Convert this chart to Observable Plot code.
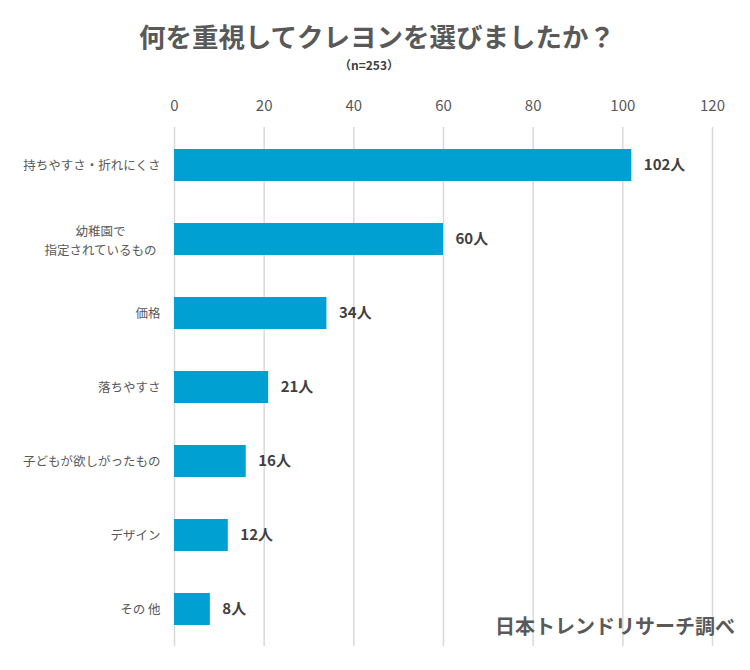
<!DOCTYPE html>
<html><head><meta charset="utf-8">
<script src="https://cdn.jsdelivr.net/npm/d3@7"></script>
<script src="https://cdn.jsdelivr.net/npm/@observablehq/plot@0.6"></script>
<style>
body{margin:0;background:#fff;font-family:"Noto Sans CJK JP","Noto Sans",sans-serif;}
#wrap{position:relative;width:750px;height:670px;}
#title{position:absolute;left:0;top:18px;width:754px;text-align:center;font-size:26.5px;font-weight:bold;color:#595959;line-height:36px;}
#sub{position:absolute;left:0;top:56px;width:738px;text-align:center;font-size:12px;font-weight:bold;color:#404040;line-height:18px;}
#cap{position:absolute;right:15px;top:613px;font-size:20px;font-weight:bold;color:#595959;line-height:26px;}
#chart{position:absolute;left:0;top:0;}
</style></head>
<body><div id="wrap"><div id="chart"></div><div id="title"></div><div id="sub"></div><div id="cap"></div></div>
<script>
const titleText = "何を重視してクレヨンを選びましたか？";
const subtitleText = "（n=253）";
const captionText = "日本トレンドリサーチ調べ";
const categories = ["持ちやすさ・折れにくさ", "幼稚園で\n指定されているもの", "価格", "落ちやすさ", "子どもが欲しがったもの", "デザイン", "その 他"];
const values = [102, 60, 34, 21, 16, 12, 8];
const unit = "人";
const xTicks = [0, 20, 40, 60, 80, 100, 120];

document.getElementById("title").textContent = titleText;
document.getElementById("sub").textContent = subtitleText;
document.getElementById("cap").textContent = captionText;

const data = categories.map((c, i) => ({cat: c, v: values[i]}));
const single = data.filter(d => !d.cat.includes("\n"));
const multi = data.filter(d => d.cat.includes("\n"));

const chart = Plot.plot({
  width: 750, height: 670,
  marginLeft: 174, marginRight: 38, marginTop: 127, marginBottom: 24,
  style: {fontFamily: '"Noto Sans CJK JP","Noto Sans",sans-serif', background: "transparent"},
  x: {domain: [0, 120], ticks: xTicks, axis: null},
  y: {domain: categories, paddingInner: 0.57, paddingOuter: 0.285, axis: null},
  marks: [
    Plot.ruleX(xTicks, {stroke: "#d9d9d9", strokeWidth: 1.5}),
    Plot.axisX({anchor: "top", ticks: xTicks, tickSize: 0, tickPadding: 17, fontSize: 15, fill: "#595959", label: null}),
    Plot.barX(data, {x: "v", y: "cat", fill: "#00A0D2"}),
    Plot.text(data, {x: "v", y: "cat", text: d => d.v + unit, textAnchor: "start", dx: 12, fontSize: 15, fontWeight: "bold", fill: "#404040"}),
    Plot.text(single, {y: "cat", frameAnchor: "left", text: "cat", textAnchor: "end", dx: -14, fontSize: 12.5, fill: "#595959"}),
    Plot.text(multi, {y: "cat", frameAnchor: "left", text: "cat", textAnchor: "middle", dx: -74, fontSize: 12.5, fill: "#595959", lineHeight: 1.55})
  ]
});
document.getElementById("chart").appendChild(chart);
</script></body></html>
